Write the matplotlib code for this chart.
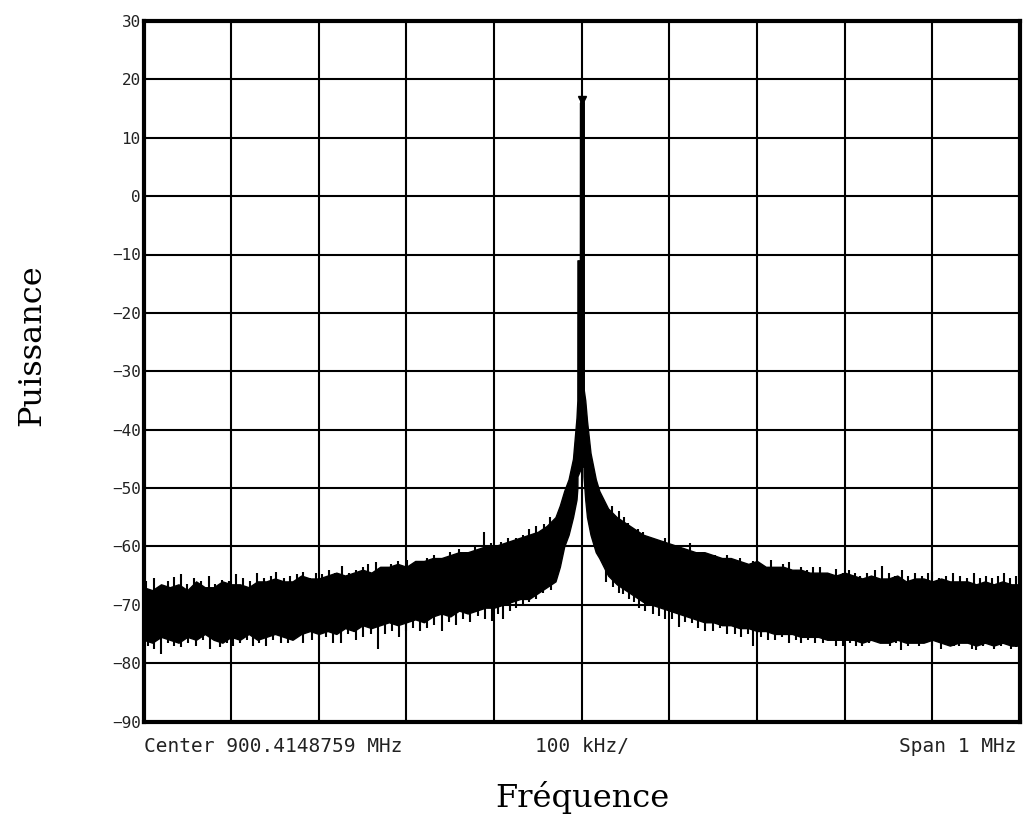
import numpy as np
import matplotlib
matplotlib.use("Agg")
import matplotlib.pyplot as plt

# Core band of the noisy trace (offset from centre in kHz, level in dB)
left_freq = np.arange(-500, -29, 10)
left_upper = [-67.0, -67.5, -66.5, -67.0, -66.5, -67.5, -66.0, -67.0, -67.0, -66.0,
              -66.5, -66.5, -67.0, -66.0, -66.0, -65.5, -66.0, -66.0, -65.0, -65.5,
              -65.5, -65.0, -64.5, -65.0, -64.5, -64.0, -64.5, -63.5, -63.5, -63.0,
              -63.5, -62.5, -62.5, -62.0, -62.0, -61.5, -61.0, -61.0, -60.5, -60.0,
              -60.0, -59.5, -59.0, -58.5, -58.0, -57.5, -56.5, -55.0]
left_lower = [-76.0, -76.5, -75.5, -76.0, -76.5, -75.5, -76.0, -75.0, -76.0, -76.5,
              -75.5, -76.0, -75.0, -76.0, -75.5, -75.0, -75.5, -76.0, -75.0, -74.5,
              -75.0, -74.5, -75.0, -74.0, -74.5, -73.5, -74.0, -73.5, -73.0, -73.5,
              -73.0, -72.5, -73.0, -72.0, -71.5, -72.0, -71.0, -71.5, -71.0, -70.5,
              -70.5, -70.0, -69.5, -69.0, -69.0, -68.0, -67.0, -66.0]

center_freq = [-25, -20, -15, -10, -6, -5, -4.9, -2.1, -2, 2, 2.1, 4, 6, 10, 16, 20, 25]
center_upper = [-53.0, -50.5, -48.5, -45.0, -38.0, -35.0, -11.0, -11.0, 16.0, 16.0,
                -33.0, -35.0, -38.5, -44.0, -48.5, -50.5, -52.0]
center_lower = [-63.5, -60.0, -58.0, -55.0, -52.0, -50.0, -48.0, -47.0, -46.0, -46.0,
                -48.0, -52.0, -55.0, -58.0, -61.0, -62.0, -63.5]

right_freq = np.arange(30, 501, 10)
right_upper = [-53.5, -55.0, -56.0, -57.0, -58.0, -58.5, -59.0, -59.5, -60.0, -60.5,
               -61.0, -61.0, -61.5, -62.0, -62.0, -62.5, -63.0, -62.5, -63.5, -63.5,
               -63.5, -64.0, -64.0, -64.5, -64.5, -64.5, -65.0, -64.5, -65.0, -65.5,
               -65.0, -65.5, -65.5, -65.0, -66.0, -65.5, -65.5, -66.0, -65.5, -66.0,
               -66.0, -66.0, -66.5, -66.0, -66.5, -66.0, -66.5, -66.5]
right_lower = [-65.0, -66.5, -67.5, -68.5, -69.5, -70.0, -70.5, -71.0, -71.5, -72.0,
               -72.5, -73.0, -73.0, -73.5, -73.5, -74.0, -74.0, -74.5, -74.5, -75.0,
               -75.0, -75.0, -75.5, -75.5, -75.5, -76.0, -76.0, -76.0, -76.0, -76.5,
               -76.0, -76.5, -76.5, -76.0, -76.5, -76.5, -76.5, -76.0, -76.5, -77.0,
               -76.5, -76.5, -77.0, -76.5, -77.0, -76.5, -77.0, -77.0]

# Narrow needles sticking out of the band: (offset kHz, tip level dB)
spikes_up_left = [
    (-497, -66.0), (-488, -65.5), (-481, -67.0), (-472, -66.0), (-465, -65.2), (-457, -64.7),
    (-450, -66.5), (-442, -65.5), (-434, -66.0), (-425, -65.0), (-418, -66.5), (-410, -65.8),
    (-402, -66.0), (-394, -64.7), (-386, -65.5), (-378, -66.0), (-370, -64.5), (-362, -65.5),
    (-355, -65.0), (-349, -64.4), (-340, -65.5), (-333, -65.0), (-325, -64.8), (-318, -64.4),
    (-310, -65.5), (-303, -64.5), (-296, -64.8), (-288, -64.1), (-281, -64.5), (-273, -63.3),
    (-265, -64.5), (-258, -64.0), (-250, -63.5), (-244, -63.0), (-235, -62.7), (-226, -63.8),
    (-218, -63.0), (-210, -62.5), (-199, -62.3), (-192, -63.0), (-185, -62.7), (-176, -62.0),
    (-168, -61.5), (-160, -62.0), (-150, -61.0), (-140, -60.5), (-132, -61.0), (-122, -60.0),
    (-111, -57.5), (-103, -59.5), (-92, -59.3), (-84, -58.5), (-75, -58.5), (-67, -58.0),
    (-60, -57.0), (-52, -56.5), (-43, -56.1), (-36, -55.0)]
spikes_up_right = [
    (35, -53.0), (42, -54.0), (48, -55.0), (53, -56.0), (58, -57.3), (64, -57.0),
    (70, -57.5), (76, -58.5), (81, -59.0), (88, -59.0), (95, -58.5), (102, -60.0),
    (110, -60.0), (117, -60.5), (123, -59.4), (130, -61.0), (138, -61.0), (145, -61.5),
    (152, -61.5), (159, -62.0), (166, -61.5), (174, -62.5), (181, -62.0), (188, -63.0),
    (195, -62.5), (203, -63.0), (210, -63.5), (216, -62.4), (224, -63.5), (230, -63.0),
    (237, -62.7), (244, -64.0), (250, -63.5), (257, -64.0), (264, -63.5), (272, -63.5),
    (280, -64.5), (290, -63.8), (298, -64.5), (305, -64.0), (312, -64.5), (318, -65.0),
    (326, -64.5), (334, -64.0), (343, -63.4), (350, -64.5), (357, -65.0), (365, -64.0),
    (372, -65.0), (380, -64.5), (388, -65.0), (395, -64.5), (400, -64.4), (408, -65.5),
    (416, -65.0), (424, -64.5), (432, -65.0), (440, -65.5), (447, -64.5), (454, -65.5),
    (461, -65.0), (468, -65.5), (475, -65.0), (482, -64.5), (489, -65.5), (496, -65.0)]
spikes_down_left = [
    (-495, -77.0), (-488, -77.5), (-480, -78.4), (-472, -76.5), (-465, -77.0), (-457, -77.3),
    (-449, -76.5), (-440, -77.0), (-432, -76.0), (-424, -77.5), (-413, -77.3), (-405, -76.5),
    (-398, -77.0), (-390, -76.5), (-382, -76.0), (-375, -77.0), (-368, -76.5), (-360, -77.0),
    (-352, -76.0), (-343, -76.5), (-335, -76.5), (-327, -75.5), (-318, -76.5), (-308, -76.0),
    (-300, -76.0), (-292, -75.5), (-284, -76.5), (-275, -76.5), (-267, -75.0), (-258, -76.0),
    (-250, -75.5), (-241, -75.0), (-233, -77.5), (-224, -75.0), (-216, -74.5), (-208, -75.5),
    (-200, -74.5), (-192, -74.0), (-185, -74.5), (-176, -74.0), (-168, -73.5), (-160, -74.5),
    (-152, -73.0), (-143, -73.5), (-135, -72.5), (-127, -73.0), (-118, -72.0), (-110, -72.5),
    (-102, -72.7), (-95, -71.5), (-90, -72.4), (-82, -71.0), (-75, -70.5), (-67, -70.0),
    (-60, -69.5), (-52, -69.0), (-44, -68.0), (-35, -67.5)]
spikes_down_right = [
    (28, -66.1), (36, -67.0), (42, -68.0), (47, -68.1), (54, -69.0), (60, -69.5),
    (65, -70.5), (72, -71.0), (81, -71.5), (88, -72.0), (95, -72.5), (103, -72.5),
    (111, -73.8), (118, -73.0), (126, -73.2), (133, -74.0), (141, -74.5), (150, -74.5),
    (158, -74.0), (166, -75.0), (175, -75.0), (182, -75.5), (190, -75.0), (195, -77.0),
    (204, -75.5), (212, -76.0), (220, -76.0), (228, -75.5), (236, -76.5), (244, -76.0),
    (250, -76.5), (258, -76.0), (266, -76.5), (275, -76.5), (283, -76.0), (290, -77.0),
    (298, -77.0), (306, -76.5), (313, -77.0), (320, -77.0), (328, -76.5), (336, -76.0),
    (345, -76.5), (352, -77.0), (358, -76.5), (364, -77.8), (372, -77.0), (379, -76.5),
    (385, -77.0), (393, -76.5), (400, -77.0), (410, -77.5), (418, -76.5), (425, -77.0),
    (430, -77.0), (438, -76.5), (445, -77.5), (450, -77.8), (458, -77.0), (465, -76.5),
    (470, -77.5), (478, -77.0), (485, -76.5), (490, -77.5), (495, -77.3)]

marker_freq = 0
marker_level = 17

freq = np.concatenate([left_freq, center_freq, right_freq])
upper = np.array(left_upper + center_upper + right_upper)
lower = np.array(left_lower + center_lower + right_lower)
up_f, up_l = np.array(spikes_up_left + spikes_up_right).T
dn_f, dn_l = np.array(spikes_down_left + spikes_down_right).T

fig = plt.figure(figsize=(10.23, 8.18), dpi=100)
ax = fig.add_axes([143.5 / 1023, 1 - 721.5 / 818, 876.5 / 1023, 700.5 / 818])

ax.set_xlim(-500, 500)
ax.set_ylim(-90, 30)
ax.set_xticks(np.arange(-500, 501, 100))
ax.set_yticks(np.arange(-90, 31, 10))
ax.set_xticklabels([])
ax.grid(True, color="black", linewidth=1.5)
ax.set_axisbelow(True)
ax.tick_params(length=0, pad=2)
for lab in ax.get_yticklabels():
    lab.set_family("DejaVu Sans Mono")
    lab.set_fontsize(11.5)
    lab.set_color("#222222")
for sp in ax.spines.values():
    sp.set_linewidth(3)

ax.fill_between(freq, lower, upper, color="black", linewidth=1.0, edgecolor="black")

# needles start inside the band and run out to their tips
ax.vlines(up_f, np.interp(up_f, freq, upper) - 2, up_l, color="black", linewidth=1.5)
ax.vlines(dn_f, np.interp(dn_f, freq, lower) + 2, dn_l, color="black", linewidth=1.5)

ax.plot([marker_freq, marker_freq], [marker_level - 1, -46], color="black", linewidth=3.5)
ax.plot(marker_freq, marker_level - 0.5, marker="v", color="black", markersize=6)

mono = dict(family="DejaVu Sans Mono", fontsize=14, color="#222222")
ax.text(0.0, -0.022, "Center 900.4148759 MHz", transform=ax.transAxes, ha="left", va="top", **mono)
ax.text(0.5, -0.022, "100 kHz/", transform=ax.transAxes, ha="center", va="top", **mono)
ax.text(0.996, -0.022, "Span 1 MHz", transform=ax.transAxes, ha="right", va="top", **mono)

fig.text(582 / 1023, 1 - 798 / 818, "Fréquence", family="DejaVu Serif", fontsize=23,
         ha="center", va="center")
fig.text(32 / 1023, 1 - 345 / 818, "Puissance", family="DejaVu Serif", fontsize=23,
         ha="center", va="center", rotation=90)

fig.savefig("out.png", dpi=100)
